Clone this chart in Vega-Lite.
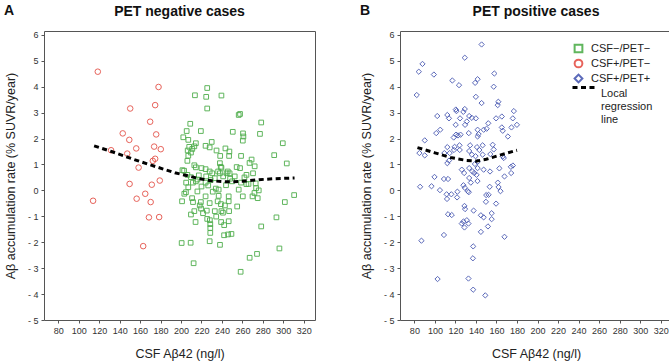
{
  "$schema": "https://vega.github.io/schema/vega-lite/v6.json",
  "padding": {"left": 3, "top": 4, "right": 2, "bottom": 2},
  "background": "white",
  "config": {
    "font": "Liberation Sans",
    "view": {"stroke": "#555", "strokeWidth": 1},
    "axis": {"labelFontSize": 9, "labelColor": "#333", "tickColor": "#555", "tickSize": 3, "domain": false, "grid": false, "titleFontSize": 12.5, "titleFontWeight": "normal", "titleColor": "#222", "labelPadding": 3, "labelOverlap": false, "labelFlush": false},
    "axisQuantitative": {"labelOverlap": false},
    "axisX": {"titlePadding": 12, "labelOverlap": false},
    "axisY": {"titlePadding": 10, "labelOverlap": false},
    "title": {"fontSize": 14, "fontWeight": "bold", "color": "#111", "offset": 12},
    "legend": {"labelFontSize": 11, "labelColor": "#222"}
  },
  "datasets": {
    "neg": [
      {"x":213.6,"y":3.67,"g":"CSF−/PET−"},{"x":225.6,"y":3.95,"g":"CSF−/PET−"},{"x":224.6,"y":3.61,"g":"CSF−/PET−"},{"x":239.5,"y":3.66,"g":"CSF−/PET−"},{"x":225.6,"y":3.16,"g":"CSF−/PET−"},{"x":256.4,"y":2.91,"g":"CSF−/PET−"},{"x":257.7,"y":2.95,"g":"CSF−/PET−"},{"x":278.4,"y":2.62,"g":"CSF−/PET−"},{"x":209,"y":2.57,"g":"CSF−/PET−"},{"x":205.5,"y":2.29,"g":"CSF−/PET−"},{"x":219.4,"y":2.29,"g":"CSF−/PET−"},{"x":250.6,"y":2.26,"g":"CSF−/PET−"},{"x":260.6,"y":2.2,"g":"CSF−/PET−"},{"x":261,"y":2.08,"g":"CSF−/PET−"},{"x":277.2,"y":2.18,"g":"CSF−/PET−"},{"x":202.2,"y":2.05,"g":"CSF−/PET−"},{"x":207.1,"y":1.95,"g":"CSF−/PET−"},{"x":214.5,"y":1.82,"g":"CSF−/PET−"},{"x":230,"y":1.87,"g":"CSF−/PET−"},{"x":260.4,"y":1.92,"g":"CSF−/PET−"},{"x":299.5,"y":1.82,"g":"CSF−/PET−"},{"x":208,"y":1.68,"g":"CSF−/PET−"},{"x":211,"y":1.6,"g":"CSF−/PET−"},{"x":213,"y":1.7,"g":"CSF−/PET−"},{"x":224,"y":1.72,"g":"CSF−/PET−"},{"x":228,"y":1.66,"g":"CSF−/PET−"},{"x":234.7,"y":1.54,"g":"CSF−/PET−"},{"x":243.4,"y":1.62,"g":"CSF−/PET−"},{"x":247.3,"y":1.5,"g":"CSF−/PET−"},{"x":206.5,"y":1.54,"g":"CSF−/PET−"},{"x":209.7,"y":1.46,"g":"CSF−/PET−"},{"x":207.1,"y":1.34,"g":"CSF−/PET−"},{"x":247,"y":1.33,"g":"CSF−/PET−"},{"x":258.7,"y":1.33,"g":"CSF−/PET−"},{"x":238.3,"y":1.33,"g":"CSF−/PET−"},{"x":291.1,"y":1.36,"g":"CSF−/PET−"},{"x":206.2,"y":1.14,"g":"CSF−/PET−"},{"x":269,"y":1.19,"g":"CSF−/PET−"},{"x":267,"y":1.06,"g":"CSF−/PET−"},{"x":238,"y":1.05,"g":"CSF−/PET−"},{"x":213,"y":0.97,"g":"CSF−/PET−"},{"x":272,"y":0.93,"g":"CSF−/PET−"},{"x":303.4,"y":1.04,"g":"CSF−/PET−"},{"x":214.5,"y":0.89,"g":"CSF−/PET−"},{"x":220,"y":0.86,"g":"CSF−/PET−"},{"x":224,"y":0.82,"g":"CSF−/PET−"},{"x":238.8,"y":0.91,"g":"CSF−/PET−"},{"x":239.5,"y":0.87,"g":"CSF−/PET−"},{"x":254.4,"y":0.9,"g":"CSF−/PET−"},{"x":257.7,"y":0.86,"g":"CSF−/PET−"},{"x":201.4,"y":0.78,"g":"CSF−/PET−"},{"x":203,"y":0.76,"g":"CSF−/PET−"},{"x":228,"y":0.73,"g":"CSF−/PET−"},{"x":230.5,"y":0.66,"g":"CSF−/PET−"},{"x":236.3,"y":0.73,"g":"CSF−/PET−"},{"x":238,"y":0.66,"g":"CSF−/PET−"},{"x":244.5,"y":0.66,"g":"CSF−/PET−"},{"x":245.7,"y":0.73,"g":"CSF−/PET−"},{"x":247.5,"y":0.66,"g":"CSF−/PET−"},{"x":270.4,"y":0.66,"g":"CSF−/PET−"},{"x":206.2,"y":0.6,"g":"CSF−/PET−"},{"x":209.7,"y":0.51,"g":"CSF−/PET−"},{"x":217.4,"y":0.58,"g":"CSF−/PET−"},{"x":224.6,"y":0.54,"g":"CSF−/PET−"},{"x":241.2,"y":0.54,"g":"CSF−/PET−"},{"x":252.5,"y":0.54,"g":"CSF−/PET−"},{"x":233,"y":0.47,"g":"CSF−/PET−"},{"x":214.5,"y":0.35,"g":"CSF−/PET−"},{"x":224,"y":0.3,"g":"CSF−/PET−"},{"x":250,"y":0.35,"g":"CSF−/PET−"},{"x":258.7,"y":0.3,"g":"CSF−/PET−"},{"x":263.9,"y":0.24,"g":"CSF−/PET−"},{"x":273,"y":0.27,"g":"CSF−/PET−"},{"x":211.6,"y":0.3,"g":"CSF−/PET−"},{"x":207.1,"y":0.12,"g":"CSF−/PET−"},{"x":226.6,"y":0.19,"g":"CSF−/PET−"},{"x":234,"y":0.07,"g":"CSF−/PET−"},{"x":236.8,"y":0.03,"g":"CSF−/PET−"},{"x":256.4,"y":0.03,"g":"CSF−/PET−"},{"x":273.4,"y":0.09,"g":"CSF−/PET−"},{"x":204.8,"y":-0.07,"g":"CSF−/PET−"},{"x":203.2,"y":-0.13,"g":"CSF−/PET−"},{"x":216,"y":-0.04,"g":"CSF−/PET−"},{"x":224,"y":-0.23,"g":"CSF−/PET−"},{"x":236.8,"y":-0.21,"g":"CSF−/PET−"},{"x":246.6,"y":-0.23,"g":"CSF−/PET−"},{"x":260.4,"y":-0.23,"g":"CSF−/PET−"},{"x":269.9,"y":-0.23,"g":"CSF−/PET−"},{"x":271.8,"y":-0.1,"g":"CSF−/PET−"},{"x":310.6,"y":-0.18,"g":"CSF−/PET−"},{"x":301.5,"y":-0.45,"g":"CSF−/PET−"},{"x":293.3,"y":-1.04,"g":"CSF−/PET−"},{"x":201,"y":-0.42,"g":"CSF−/PET−"},{"x":210.8,"y":-0.3,"g":"CSF−/PET−"},{"x":211.7,"y":-0.45,"g":"CSF−/PET−"},{"x":219.4,"y":-0.45,"g":"CSF−/PET−"},{"x":228,"y":-0.49,"g":"CSF−/PET−"},{"x":235.8,"y":-0.42,"g":"CSF−/PET−"},{"x":239,"y":-0.53,"g":"CSF−/PET−"},{"x":242.9,"y":-0.58,"g":"CSF−/PET−"},{"x":246.6,"y":-0.42,"g":"CSF−/PET−"},{"x":254.9,"y":-0.62,"g":"CSF−/PET−"},{"x":218.3,"y":-0.58,"g":"CSF−/PET−"},{"x":219.6,"y":-0.7,"g":"CSF−/PET−"},{"x":225.2,"y":-0.78,"g":"CSF−/PET−"},{"x":213,"y":-0.8,"g":"CSF−/PET−"},{"x":221.5,"y":-0.88,"g":"CSF−/PET−"},{"x":233,"y":-0.8,"g":"CSF−/PET−"},{"x":239.5,"y":-0.8,"g":"CSF−/PET−"},{"x":247,"y":-0.8,"g":"CSF−/PET−"},{"x":209.7,"y":-0.93,"g":"CSF−/PET−"},{"x":241,"y":-0.86,"g":"CSF−/PET−"},{"x":234.4,"y":-1.01,"g":"CSF−/PET−"},{"x":225.6,"y":-1.1,"g":"CSF−/PET−"},{"x":228.2,"y":-1.15,"g":"CSF−/PET−"},{"x":214.2,"y":-1.22,"g":"CSF−/PET−"},{"x":239.2,"y":-1.22,"g":"CSF−/PET−"},{"x":246.6,"y":-1.19,"g":"CSF−/PET−"},{"x":228.6,"y":-1.3,"g":"CSF−/PET−"},{"x":242.2,"y":-1.34,"g":"CSF−/PET−"},{"x":228.6,"y":-1.45,"g":"CSF−/PET−"},{"x":278.4,"y":-1.39,"g":"CSF−/PET−"},{"x":228.6,"y":-1.64,"g":"CSF−/PET−"},{"x":242.1,"y":-1.73,"g":"CSF−/PET−"},{"x":246,"y":-1.7,"g":"CSF−/PET−"},{"x":249.3,"y":-1.68,"g":"CSF−/PET−"},{"x":228,"y":-1.96,"g":"CSF−/PET−"},{"x":238.1,"y":-2.1,"g":"CSF−/PET−"},{"x":200.6,"y":-2.03,"g":"CSF−/PET−"},{"x":209.4,"y":-2.02,"g":"CSF−/PET−"},{"x":296.2,"y":-2.24,"g":"CSF−/PET−"},{"x":274.3,"y":-2.45,"g":"CSF−/PET−"},{"x":267.1,"y":-2.6,"g":"CSF−/PET−"},{"x":212.3,"y":-2.81,"g":"CSF−/PET−"},{"x":258.3,"y":-3.14,"g":"CSF−/PET−"},{"x":216,"y":0.42,"g":"CSF−/PET−"},{"x":220,"y":0.15,"g":"CSF−/PET−"},{"x":229,"y":0.4,"g":"CSF−/PET−"},{"x":244,"y":0.2,"g":"CSF−/PET−"},{"x":248,"y":0.45,"g":"CSF−/PET−"},{"x":262,"y":0.5,"g":"CSF−/PET−"},{"x":266,"y":0.25,"g":"CSF−/PET−"},{"x":276,"y":0.0,"g":"CSF−/PET−"},{"x":275,"y":-0.3,"g":"CSF−/PET−"},{"x":231,"y":-0.05,"g":"CSF−/PET−"},{"x":205,"y":0.3,"g":"CSF−/PET−"},{"x":264,"y":0.6,"g":"CSF−/PET−"},
      {"x":118.6,"y":4.58,"g":"CSF+/PET−"},{"x":178,"y":3.99,"g":"CSF+/PET−"},{"x":150.3,"y":3.16,"g":"CSF+/PET−"},{"x":174.7,"y":3.29,"g":"CSF+/PET−"},{"x":169.8,"y":2.65,"g":"CSF+/PET−"},{"x":143,"y":2.2,"g":"CSF+/PET−"},{"x":175.7,"y":2.16,"g":"CSF+/PET−"},{"x":149.4,"y":1.95,"g":"CSF+/PET−"},{"x":156.2,"y":1.62,"g":"CSF+/PET−"},{"x":173.7,"y":1.69,"g":"CSF+/PET−"},{"x":180.2,"y":1.59,"g":"CSF+/PET−"},{"x":131.6,"y":1.55,"g":"CSF+/PET−"},{"x":147.4,"y":1.42,"g":"CSF+/PET−"},{"x":174.7,"y":1.22,"g":"CSF+/PET−"},{"x":172.4,"y":1.14,"g":"CSF+/PET−"},{"x":158.5,"y":0.88,"g":"CSF+/PET−"},{"x":179.2,"y":0.38,"g":"CSF+/PET−"},{"x":149.7,"y":0.25,"g":"CSF+/PET−"},{"x":171.4,"y":0.22,"g":"CSF+/PET−"},{"x":114,"y":-0.4,"g":"CSF+/PET−"},{"x":156.6,"y":-0.32,"g":"CSF+/PET−"},{"x":165,"y":-0.13,"g":"CSF+/PET−"},{"x":170.3,"y":-0.45,"g":"CSF+/PET−"},{"x":168.6,"y":-1.04,"g":"CSF+/PET−"},{"x":178.6,"y":-1.03,"g":"CSF+/PET−"},{"x":163,"y":-2.15,"g":"CSF+/PET−"}
    ],
    "pos": [
      {"x":145.5,"y":5.63},{"x":129.1,"y":5.12},{"x":87.9,"y":4.88},{"x":84.3,"y":4.58},{"x":99,"y":4.47},{"x":157.9,"y":4.51},{"x":117,"y":4.24},{"x":123.5,"y":4.06},{"x":141.6,"y":4.29},{"x":139.2,"y":4.15},{"x":157.3,"y":4.0},{"x":82.3,"y":3.68},{"x":139.9,"y":3.61},{"x":145.5,"y":3.37},{"x":161.8,"y":3.42},{"x":161.2,"y":3.29},{"x":102.3,"y":2.87},{"x":112.1,"y":2.91},{"x":121,"y":3.06},{"x":120.4,"y":3.12},{"x":129.1,"y":3.14},{"x":127.7,"y":3.03},{"x":113.7,"y":2.78},{"x":124.5,"y":2.78},{"x":133.4,"y":2.87},{"x":136,"y":2.8},{"x":139.9,"y":2.78},{"x":131.1,"y":2.66},{"x":129.4,"y":2.53},{"x":152,"y":2.59},{"x":159.6,"y":2.78},{"x":165.2,"y":2.85},{"x":176.9,"y":3.06},{"x":175.9,"y":2.78},{"x":179.9,"y":2.53},{"x":174.6,"y":2.43},{"x":165.2,"y":2.43},{"x":166.1,"y":2.3},{"x":171.1,"y":2.08},{"x":150.4,"y":2.38},{"x":147.5,"y":2.34},{"x":141.6,"y":2.34},{"x":141.6,"y":2.08},{"x":142.6,"y":2.17},{"x":133,"y":2.21},{"x":120.3,"y":2.53},{"x":105.2,"y":2.34},{"x":101.3,"y":2.21},{"x":120.6,"y":2.15},{"x":122.5,"y":2.12},{"x":125,"y":2.15},{"x":90.1,"y":1.93},{"x":118.3,"y":2.04},{"x":134.3,"y":1.74},{"x":124,"y":1.74},{"x":112.1,"y":1.67},{"x":119.2,"y":1.68},{"x":118.6,"y":1.56},{"x":141,"y":1.67},{"x":146.5,"y":1.74},{"x":156.3,"y":1.76},{"x":157.3,"y":1.58},{"x":143.3,"y":1.56},{"x":84.9,"y":1.44},{"x":90.1,"y":1.35},{"x":109.2,"y":1.44},{"x":114.4,"y":1.44},{"x":124.2,"y":1.56},{"x":133.4,"y":1.52},{"x":136,"y":1.38},{"x":139.6,"y":1.32},{"x":146.5,"y":1.38},{"x":154,"y":1.4},{"x":166.1,"y":1.31},{"x":167.1,"y":1.25},{"x":141.6,"y":1.1},{"x":139,"y":1.02},{"x":112.1,"y":1.05},{"x":113.7,"y":1.15},{"x":176,"y":0.96},{"x":174,"y":0.91},{"x":126.2,"y":0.8},{"x":128.5,"y":0.67},{"x":133.4,"y":0.86},{"x":136.6,"y":0.73},{"x":138.3,"y":0.67},{"x":140.6,"y":0.6},{"x":141.6,"y":0.86},{"x":147.5,"y":0.8},{"x":153.7,"y":0.73},{"x":162.8,"y":0.85},{"x":167.8,"y":0.54},{"x":174.3,"y":0.67},{"x":99.6,"y":0.52},{"x":108.8,"y":0.44},{"x":112.8,"y":0.44},{"x":133.4,"y":0.48},{"x":85.6,"y":0.14},{"x":96.7,"y":0.16},{"x":104.9,"y":0.01},{"x":111.4,"y":-0.15},{"x":111.8,"y":-0.33},{"x":116,"y":-0.15},{"x":121.9,"y":-0.05},{"x":121.6,"y":-0.27},{"x":127.8,"y":0.2},{"x":129.1,"y":0.1},{"x":132,"y":-0.03},{"x":133,"y":-0.07},{"x":135,"y":0.3},{"x":141.5,"y":0.36},{"x":153.4,"y":0.14},{"x":150,"y":-0.18},{"x":152.3,"y":-0.17},{"x":149.7,"y":-0.44},{"x":159.6,"y":-0.51},{"x":161.3,"y":0.3},{"x":162,"y":0.13},{"x":163.9,"y":-0.03},{"x":128.8,"y":-0.6},{"x":129.4,"y":-0.72},{"x":137.7,"y":-0.78},{"x":112.8,"y":-0.92},{"x":116.4,"y":-0.95},{"x":144.8,"y":-0.96},{"x":147.5,"y":-1.04},{"x":155.3,"y":-0.88},{"x":155.3,"y":-1.11},{"x":126.2,"y":-1.28},{"x":127.8,"y":-1.2},{"x":128.8,"y":-1.43},{"x":131.1,"y":-1.15},{"x":132.7,"y":-1.28},{"x":151.7,"y":-1.39},{"x":144.8,"y":-1.6},{"x":108.8,"y":-1.72},{"x":167.8,"y":-1.79},{"x":86.9,"y":-1.94},{"x":137.3,"y":-2.16},{"x":137,"y":-2.62},{"x":102.6,"y":-3.42},{"x":132.7,"y":-3.4},{"x":137.3,"y":-3.83},{"x":149.1,"y":-4.05}
    ],
    "lineA": [
      {"x":115,"y":1.72,"s":"Local regression line"},{"x":132,"y":1.5,"s":"Local regression line"},{"x":155,"y":1.18,"s":"Local regression line"},{"x":175,"y":0.92,"s":"Local regression line"},{"x":194,"y":0.68,"s":"Local regression line"},{"x":208,"y":0.55,"s":"Local regression line"},{"x":218,"y":0.45,"s":"Local regression line"},{"x":230,"y":0.37,"s":"Local regression line"},{"x":245,"y":0.33,"s":"Local regression line"},{"x":260,"y":0.35,"s":"Local regression line"},{"x":275,"y":0.41,"s":"Local regression line"},{"x":290,"y":0.45,"s":"Local regression line"},{"x":311,"y":0.48,"s":"Local regression line"}
    ],
    "lineB": [
      {"x":83,"y":1.65,"s":"Local regression line"},{"x":100,"y":1.45,"s":"Local regression line"},{"x":115,"y":1.27,"s":"Local regression line"},{"x":130,"y":1.16,"s":"Local regression line"},{"x":140,"y":1.13,"s":"Local regression line"},{"x":150,"y":1.2,"s":"Local regression line"},{"x":165,"y":1.38,"s":"Local regression line"},{"x":180,"y":1.55,"s":"Local regression line"}
    ]
  },
  "spacing": 43,
  "resolve": {"scale": {"color": "independent", "shape": "independent", "size": "independent", "strokeDash": "independent"}, "legend": {"color": "independent", "shape": "independent", "strokeDash": "independent"}},
  "hconcat": [
    {
      "title": {"text": "A", "anchor": "start", "frame": "bounds", "dy": 14, "offset": 0},
      "resolve": {"scale": {"color": "independent", "shape": "independent", "size": "independent", "strokeDash": "independent"}, "legend": {"color": "independent", "shape": "independent", "strokeDash": "independent"}},
      "hconcat": [
        {
          "width": 271, "height": 289,
          "title": {"text": "PET negative cases", "anchor": "middle"},
          "layer": [
            {
              "data": {"name": "neg"},
              "mark": {"type": "point", "filled": false, "strokeWidth": 1, "opacity": 0.9},
              "encoding": {
                "x": {"field": "x", "type": "quantitative", "scale": {"domain": [66, 331], "nice": false, "zero": false}, "axis": {"values": [80,100,120,140,160,180,200,220,240,260,280,300,320], "labelOverlap": false, "title": "CSF Aβ42 (ng/l)"}},
                "y": {"field": "y", "type": "quantitative", "scale": {"domain": [-5, 6.15], "nice": false}, "axis": {"values": [-5,-4,-3,-2,-1,0,1,2,3,4,5,6], "labelOverlap": false, "title": "Aβ accumulation rate (% SUVR/year)", "labelExpr": "datum.value < 0 ? '- ' + abs(datum.value) : datum.label"}},
                "color": {"field": "g", "type": "nominal", "scale": {"domain": ["CSF−/PET−", "CSF+/PET−", "CSF+/PET+"], "range": ["#4fae4c", "#e5534a", "#4a5ab3"]}, "legend": null},
                "shape": {"field": "g", "type": "nominal", "scale": {"domain": ["CSF−/PET−", "CSF+/PET−", "CSF+/PET+"], "range": ["square", "circle", "diamond"]}, "legend": null},
                "size": {"field": "g", "type": "nominal", "scale": {"domain": ["CSF−/PET−", "CSF+/PET−", "CSF+/PET+"], "range": [22, 40, 28]}, "legend": null}
              }
            },
            {
              "data": {"name": "lineA"},
              "mark": {"type": "line", "color": "black", "strokeWidth": 3, "strokeDash": [5, 3.5]},
              "encoding": {
                "x": {"field": "x", "type": "quantitative", "axis": {"values": [80,100,120,140,160,180,200,220,240,260,280,300,320], "labelOverlap": false, "title": "CSF Aβ42 (ng/l)"}},
                "y": {"field": "y", "type": "quantitative", "axis": {"values": [-5,-4,-3,-2,-1,0,1,2,3,4,5,6], "labelOverlap": false, "title": "Aβ accumulation rate (% SUVR/year)", "labelExpr": "datum.value < 0 ? '- ' + abs(datum.value) : datum.label"}}
              }
            }
          ]
        }
      ]
    },
    {
      "title": {"text": "B", "anchor": "start", "frame": "bounds", "dy": 14, "offset": 0},
      "resolve": {"scale": {"color": "independent", "shape": "independent", "size": "independent", "strokeDash": "independent"}, "legend": {"color": "independent", "shape": "independent", "strokeDash": "independent"}},
      "hconcat": [
        {
          "width": 272, "height": 289,
          "title": {"text": "PET positive cases", "anchor": "middle"},
          "layer": [
            {
              "data": {"name": "pos"},
              "transform": [{"calculate": "'CSF+/PET+'", "as": "g"}],
              "mark": {"type": "point", "filled": false, "strokeWidth": 1, "opacity": 0.9, "size": 28},
              "encoding": {
                "x": {"field": "x", "type": "quantitative", "scale": {"domain": [66, 331], "nice": false, "zero": false}, "axis": {"values": [80,100,120,140,160,180,200,220,240,260,280,300,320], "labelOverlap": false, "title": "CSF Aβ42 (ng/l)"}},
                "y": {"field": "y", "type": "quantitative", "scale": {"domain": [-5, 6.15], "nice": false}, "axis": {"values": [-5,-4,-3,-2,-1,0,1,2,3,4,5,6], "labelOverlap": false, "title": "Aβ accumulation rate (% SUVR/year)", "labelExpr": "datum.value < 0 ? '- ' + abs(datum.value) : datum.label"}},
                "color": {"field": "g", "type": "nominal", "scale": {"domain": ["CSF−/PET−", "CSF+/PET−", "CSF+/PET+"], "range": ["#4fae4c", "#e5534a", "#4a5ab3"]}, "legend": {"orient": "none", "legendX": 173, "legendY": 10, "title": null, "padding": 0, "symbolSize": 60, "symbolStrokeWidth": 2, "rowPadding": 0, "clipHeight": 15, "labelOffset": 7, "labelFontSize": 11}},
                "shape": {"field": "g", "type": "nominal", "scale": {"domain": ["CSF−/PET−", "CSF+/PET−", "CSF+/PET+"], "range": ["square", "circle", "diamond"]}, "legend": {"orient": "none", "legendX": 173, "legendY": 10, "title": null, "padding": 0, "symbolSize": 60, "symbolStrokeWidth": 2, "rowPadding": 0, "clipHeight": 15, "labelOffset": 7, "labelFontSize": 11}}
              }
            },
            {
              "data": {"name": "lineB"},
              "mark": {"type": "line", "color": "black", "strokeWidth": 3},
              "encoding": {
                "x": {"field": "x", "type": "quantitative", "axis": {"values": [80,100,120,140,160,180,200,220,240,260,280,300,320], "labelOverlap": false, "title": "CSF Aβ42 (ng/l)"}},
                "y": {"field": "y", "type": "quantitative", "axis": {"values": [-5,-4,-3,-2,-1,0,1,2,3,4,5,6], "labelOverlap": false, "title": "Aβ accumulation rate (% SUVR/year)", "labelExpr": "datum.value < 0 ? '- ' + abs(datum.value) : datum.label"}},
                "strokeDash": {"field": "s", "type": "nominal", "scale": {"range": [[5, 3.5]]}, "legend": {"orient": "none", "legendX": 171, "legendY": 44, "title": null, "padding": 0, "symbolType": "stroke", "symbolSize": 484, "symbolStrokeWidth": 3, "symbolStrokeColor": "black", "labelOffset": 5, "labelFontSize": 11, "labelBaseline": "top", "labelExpr": "split(datum.label, ' ')"}}
              }
            }
          ]
        }
      ]
    }
  ]
}
